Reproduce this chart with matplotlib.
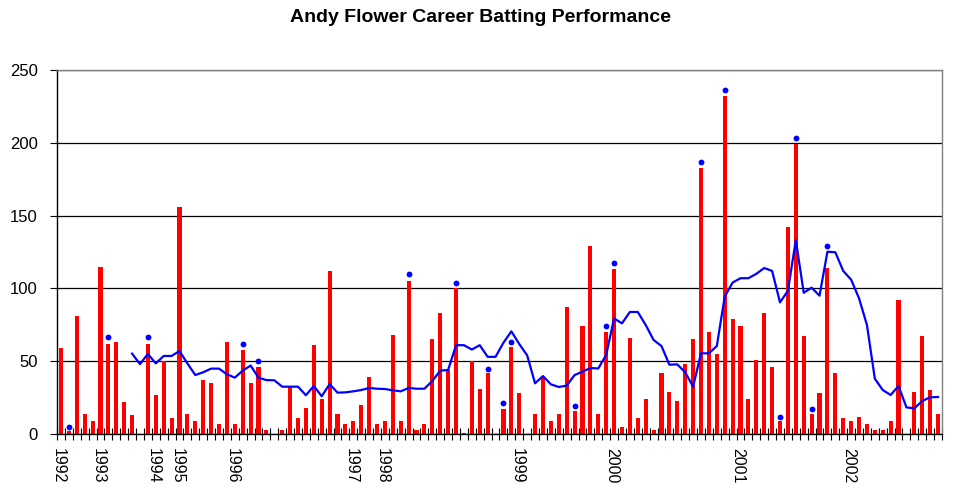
import matplotlib
matplotlib.use("Agg")
import matplotlib.pyplot as plt
import numpy as np

plt.rcParams['font.family'] = ['Liberation Sans', 'DejaVu Sans']

# Runs scored in each Test innings (in order)
scores = [59, 2, 81, 14, 9, 115, 62, 63, 22, 13,
          0, 62, 27, 50, 11, 156, 14, 9, 37, 35,
          7, 63, 7, 58, 35, 46, 3, 0, 3, 32,
          11, 18, 61, 24, 112, 14, 7, 9, 20, 39,
          7, 9, 68, 9, 105, 3, 7, 65, 83, 44,
          100, 1, 50, 31, 42, 0, 17, 60, 28, 0,
          14, 39, 9, 14, 87, 16, 74, 129, 14, 70,
          113, 5, 66, 11, 24, 3, 42, 29, 23, 48,
          65, 183, 70, 55, 232, 79, 74, 24, 51, 83,
          46, 9, 142, 199, 67, 14, 28, 114, 42, 11,
          9, 12, 7, 3, 3, 9, 92, 0, 29, 67,
          30, 14]

# Innings marked as not out (innings index) and the height of the marker dot
notout_innings = [1, 6, 11, 23, 25, 44, 50, 54, 56, 57, 65, 69, 70, 81, 84, 91, 93, 95, 97]
notout_marker = [5, 66.7, 66.8, 61.8, 50.1, 109.7, 104, 44.6, 21.5, 63.2, 19.5, 74.2,
                 117.2, 186.6, 236.3, 11.4, 203.5, 17.4, 129]

# Rolling average line, starting at innings index 9
avg_start = 9
rolling_avg = [55.2, 48, 55, 48.5, 53.6, 53.6, 57, 48.5, 40.5, 42.4,
               44.9, 44.9, 41, 38.7, 43.5, 47, 38.7, 37, 36.9, 32.5,
               32.5, 32.5, 26.6, 33, 25.9, 34.3, 28.4, 28.6, 29.3, 30.2,
               31.6, 31.1, 30.9, 30, 29.3, 31.6, 31.1, 31.1, 36.4, 43.5,
               44, 61, 61, 58, 61, 53, 53, 62.7, 70.5, 61.8,
               54, 34.8, 39.8, 34.1, 32.3, 33.2, 40.5, 42.8, 45.3, 45,
               54.3, 79.4, 76, 83.8, 83.8, 74.9, 64.6, 60.4, 47.6, 47.8,
               42.4, 32.5, 55.4, 55.4, 60.4, 94.3, 104, 107, 107, 110,
               114, 112, 90.4, 98.4, 133.2, 97, 100.5, 95, 125.2, 124.8,
               112, 106, 93.2, 74.9, 38, 30.2, 26.8, 33, 18.3, 17.6,
               22.7, 25.2, 25.4]

# Year labels: innings index of first innings in each year
year_labels = ['1992', '1993', '1994', '1995', '1996', '1997', '1998',
               '1999', '2000', '2001', '2002']
year_innings = [0, 5, 12, 15, 22, 37, 41, 58, 70, 86, 100]

fig = plt.figure(figsize=(9.6, 4.9), dpi=100)
ax = fig.add_axes([57/960, 1 - 434/490, 885/960, 364/490])

n = len(scores)
x = np.arange(n)
ax.bar(x, scores, width=0.52, color='#FF0000', zorder=2)

xa = np.arange(avg_start, avg_start + len(rolling_avg))
ax.plot(xa, rolling_avg, color='#0000FF', lw=1.6, zorder=3)
ax.plot(notout_innings, notout_marker, 'o', color='#0000FF', ms=4.2, mec='none', zorder=4)

ax.set_xlim(-0.5, n - 0.5)
ax.set_ylim(0, 250)
ax.set_yticks([0, 50, 100, 150, 200, 250])
ax.yaxis.grid(True, color='black', lw=0.9, zorder=0)
ax.set_axisbelow(True)

ax.set_xticks(np.arange(n + 1) - 0.5)
ax.set_xticklabels([])
ax.tick_params(axis='x', which='major', direction='inout', length=8, width=0.8, color='black')
ax.set_xticks([i - 0.3 for i in year_innings], minor=True)
ax.set_xticklabels(year_labels, minor=True, rotation=-90, fontsize=11.5)
ax.tick_params(axis='x', which='minor', length=0, pad=10)
ax.tick_params(axis='y', direction='out', length=5, width=0.8, labelsize=12, pad=9)

for s in ['top', 'right']:
    ax.spines[s].set_color('#808080')
    ax.spines[s].set_linewidth(1.0)
for s in ['left', 'bottom']:
    ax.spines[s].set_color('black')
    ax.spines[s].set_linewidth(1.0)

fig.text(0.5, 1 - 17/490, 'Andy Flower Career Batting Performance',
         ha='center', va='center', fontsize=14, fontweight='bold')

fig.savefig('out.png', dpi=100, facecolor='white')
